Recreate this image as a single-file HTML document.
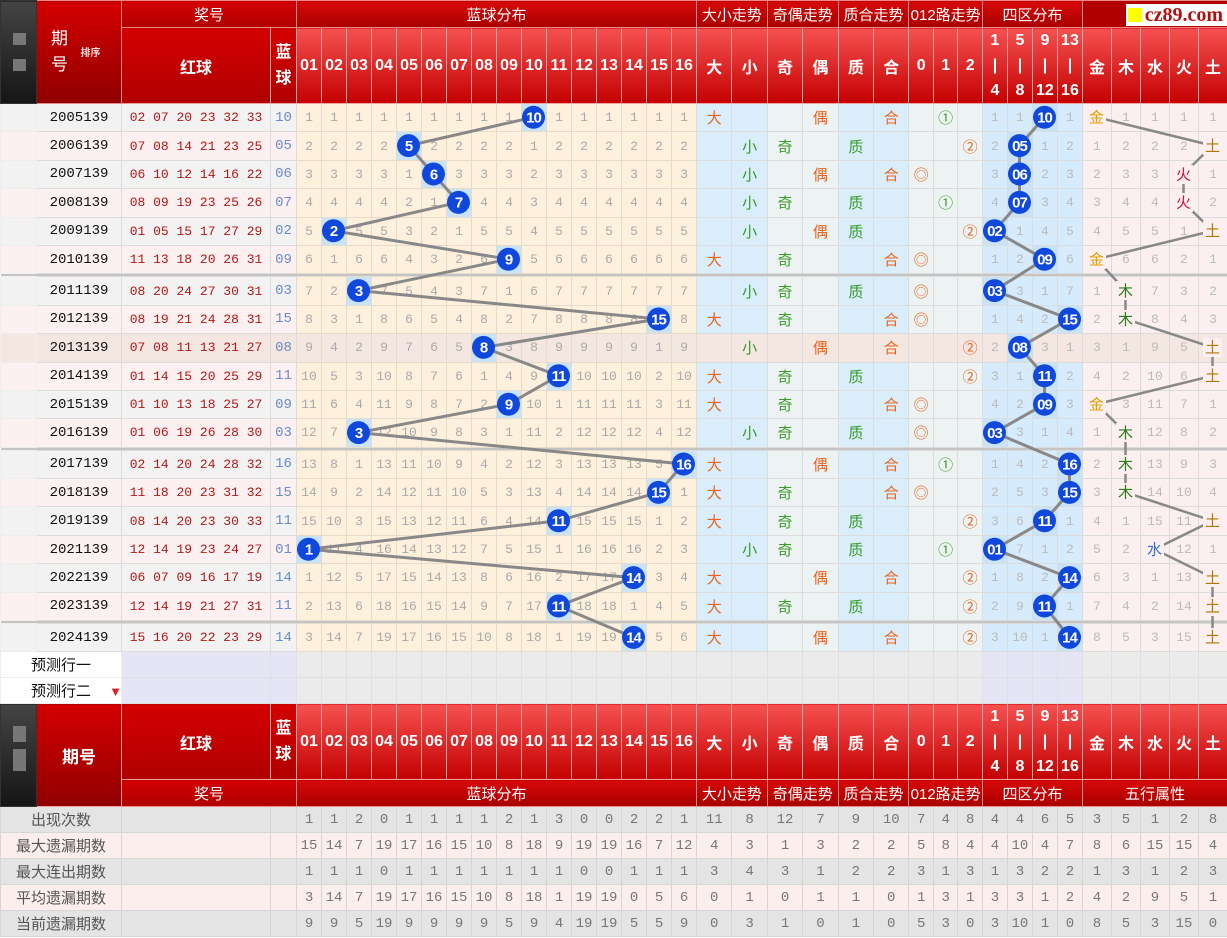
<!DOCTYPE html>
<html><head><meta charset="utf-8">
<style>
body{margin:0;width:1227px;height:938px;overflow:hidden;background:#fff;position:relative;font-family:"Liberation Sans","Noto Sans CJK SC",sans-serif}
table{border-collapse:collapse;table-layout:fixed;width:1227px;position:absolute;left:0;top:0}
td{padding:0;text-align:center;border:1px solid #dcdcdc;overflow:hidden;white-space:nowrap;font-size:13px;color:#aaa;font-family:"Liberation Mono","Noto Sans CJK SC",monospace}
.h1 td{height:26px;background:linear-gradient(#d80808,#a80000);color:#fff;font-size:15px;border:1px solid #e88;font-family:"Liberation Sans","Noto Sans CJK SC",sans-serif}
.h2 td{height:75px;background:linear-gradient(#f55050,#c40000);color:#fff;font-size:16px;font-weight:bold;border:1px solid #f3a0a0;font-family:"Liberation Sans","Noto Sans CJK SC",sans-serif}
.h2 td.rr,.h1 td.rr{background:linear-gradient(#d40000,#b00000)}
td.qh{background:linear-gradient(#d40000,#900000)!important;color:#fff;font-weight:normal;font-size:17px}
td.st{background:linear-gradient(#444,#151515)!important;border-color:#333!important;position:relative}
td.st i{position:absolute;left:12px;width:13px;height:12px;background:#777}
.zl{line-height:25px;font-size:15px}
.logo{background:#b00000!important}
.logo span{display:inline-block;background:#fff;color:#b01010;font:bold 20px "Liberation Serif",serif;padding:0 4px 0 2px;line-height:22px;margin-top:1px}
.logo b{display:inline-block;width:14px;height:14px;background:#ff0;vertical-align:-1px;margin-right:3px}
tr.d td{height:27.4px}
tr.d td:nth-child(1){background:#f6f6f6;border-color:#eee;position:relative}
tr.d td:nth-child(2){color:#111;font-size:14px}
tr.d td:nth-child(3){color:#b21818;font-size:13px;letter-spacing:0}
tr.d td:nth-child(4){color:#6a8cc8;font-size:14px}
tr.a td:nth-child(-n+4){background:#f2f2f2}
tr.b td:nth-child(-n+4){background:#fdf0f0}
tr.d td:nth-child(n+5):nth-child(-n+20){background:#fdf0dc;border-color:#e6dccb}
tr.d td:nth-child(21),tr.d td:nth-child(22),tr.d td:nth-child(25),tr.d td:nth-child(26){background:#d9edfa}
tr.d td:nth-child(23),tr.d td:nth-child(24),tr.d td:nth-child(n+27):nth-child(-n+29){background:#edf3f3}
tr.d td:nth-child(n+30):nth-child(-n+33){background:#d6ebfb;color:#bbb}
tr.d td:nth-child(n+34){background:#fcefef;color:#bbb}
tr.x td{background:#f4e6e0!important}
tr.d td.h{background:#c8e3fa!important}
td.o{color:#e8641e!important;font-size:15px;font-family:"Liberation Sans","Noto Sans CJK SC",sans-serif}
td.g{color:#3a9a2a!important;font-size:15px;font-family:"Liberation Sans","Noto Sans CJK SC",sans-serif}
tr.sp td{height:2px;background:#c4c4c4;border:0;padding:0}
tr.pr td{height:25px;background:#ebebeb;border-color:#e0e0e0}
tr.pr td.pl{background:#fff;text-align:left;padding-left:30px;color:#111;font-size:15px;font-family:"Liberation Sans","Noto Sans CJK SC",sans-serif;border-color:#eee}
tr.pr td.lv{background:#e5e5f5}
tr.sr td{height:25px;color:#777;font-size:14px;border-color:#d6d6d6}
tr.sr td.lb{color:#555;font-size:15px;font-family:"Liberation Sans","Noto Sans CJK SC",sans-serif}
tr.s1 td{background:#e4e4e4}
tr.s2 td{background:#fdeeee}
</style></head><body>
<table>
<colgroup><col style="width:36px"><col style="width:85px"><col style="width:149px"><col style="width:26px">
<col style="width:25px"><col style="width:25px"><col style="width:25px"><col style="width:25px"><col style="width:25px"><col style="width:25px"><col style="width:25px"><col style="width:25px"><col style="width:25px"><col style="width:25px"><col style="width:25px"><col style="width:25px"><col style="width:25px"><col style="width:25px"><col style="width:25px"><col style="width:25px">
<col style="width:35.4px"><col style="width:35.4px"><col style="width:35.4px"><col style="width:35.4px"><col style="width:35.4px"><col style="width:35.4px">
<col style="width:24.5px"><col style="width:24.5px"><col style="width:24.5px">
<col style="width:25px"><col style="width:25px"><col style="width:25px"><col style="width:25px">
<col style="width:29px"><col style="width:29px"><col style="width:29px"><col style="width:29px"><col style="width:29px"></colgroup>
<tr class="h1"><td class="st" rowspan="2"><i style="top:32px"></i><i style="top:58px"></i></td><td class="qh" rowspan="2" style="text-align:left;padding-left:14px;line-height:26px">期<br>号<span style="position:absolute;left:80px;top:40px;font-size:10px;font-weight:bold;color:#fdd">排序</span></td><td class="rr" colspan="2">奖号</td><td colspan="16">蓝球分布</td><td colspan="2">大小走势</td><td colspan="2">奇偶走势</td><td colspan="2">质合走势</td><td colspan="3">012路走势</td><td colspan="4">四区分布</td><td colspan="5" class="logo" style="text-align:right"><span><b></b>cz89.com</span></td></tr>
<tr class="h2"><td class="rr">红球</td><td class="rr" style="line-height:26px">蓝<br>球</td><td>01</td><td>02</td><td>03</td><td>04</td><td>05</td><td>06</td><td>07</td><td>08</td><td>09</td><td>10</td><td>11</td><td>12</td><td>13</td><td>14</td><td>15</td><td>16</td><td>大</td><td>小</td><td>奇</td><td>偶</td><td>质</td><td>合</td><td>0</td><td>1</td><td>2</td><td class="zl">1<br>|<br>4</td><td class="zl">5<br>|<br>8</td><td class="zl">9<br>|<br>12</td><td class="zl">13<br>|<br>16</td><td>金</td><td>木</td><td>水</td><td>火</td><td>土</td></tr>

<tr class="d a"><td></td><td>2005139</td><td>02 07 20 23 32 33</td><td>10</td><td>1</td><td>1</td><td>1</td><td>1</td><td>1</td><td>1</td><td>1</td><td>1</td><td>1</td><td class="h"></td><td>1</td><td>1</td><td>1</td><td>1</td><td>1</td><td>1</td><td class="o">大</td><td></td><td></td><td class="o">偶</td><td></td><td class="o">合</td><td></td><td class="g">①</td><td></td><td>1</td><td>1</td><td class="h"></td><td>1</td><td></td><td>1</td><td>1</td><td>1</td><td>1</td></tr>
<tr class="d b"><td></td><td>2006139</td><td>07 08 14 21 23 25</td><td>05</td><td>2</td><td>2</td><td>2</td><td>2</td><td class="h"></td><td>2</td><td>2</td><td>2</td><td>2</td><td>1</td><td>2</td><td>2</td><td>2</td><td>2</td><td>2</td><td>2</td><td></td><td class="g">小</td><td class="g">奇</td><td></td><td class="g">质</td><td></td><td></td><td></td><td class="o">②</td><td>2</td><td class="h"></td><td>1</td><td>2</td><td>1</td><td>2</td><td>2</td><td>2</td><td></td></tr>
<tr class="d a"><td></td><td>2007139</td><td>06 10 12 14 16 22</td><td>06</td><td>3</td><td>3</td><td>3</td><td>3</td><td>1</td><td class="h"></td><td>3</td><td>3</td><td>3</td><td>2</td><td>3</td><td>3</td><td>3</td><td>3</td><td>3</td><td>3</td><td></td><td class="g">小</td><td></td><td class="o">偶</td><td></td><td class="o">合</td><td class="o">◎</td><td></td><td></td><td>3</td><td class="h"></td><td>2</td><td>3</td><td>2</td><td>3</td><td>3</td><td></td><td>1</td></tr>
<tr class="d b"><td></td><td>2008139</td><td>08 09 19 23 25 26</td><td>07</td><td>4</td><td>4</td><td>4</td><td>4</td><td>2</td><td>1</td><td class="h"></td><td>4</td><td>4</td><td>3</td><td>4</td><td>4</td><td>4</td><td>4</td><td>4</td><td>4</td><td></td><td class="g">小</td><td class="g">奇</td><td></td><td class="g">质</td><td></td><td></td><td class="g">①</td><td></td><td>4</td><td class="h"></td><td>3</td><td>4</td><td>3</td><td>4</td><td>4</td><td></td><td>2</td></tr>
<tr class="d a"><td></td><td>2009139</td><td>01 05 15 17 27 29</td><td>02</td><td>5</td><td class="h"></td><td>5</td><td>5</td><td>3</td><td>2</td><td>1</td><td>5</td><td>5</td><td>4</td><td>5</td><td>5</td><td>5</td><td>5</td><td>5</td><td>5</td><td></td><td class="g">小</td><td></td><td class="o">偶</td><td class="g">质</td><td></td><td></td><td></td><td class="o">②</td><td class="h"></td><td>1</td><td>4</td><td>5</td><td>4</td><td>5</td><td>5</td><td>1</td><td></td></tr>
<tr class="d b"><td></td><td>2010139</td><td>11 13 18 20 26 31</td><td>09</td><td>6</td><td>1</td><td>6</td><td>6</td><td>4</td><td>3</td><td>2</td><td>6</td><td class="h"></td><td>5</td><td>6</td><td>6</td><td>6</td><td>6</td><td>6</td><td>6</td><td class="o">大</td><td></td><td class="g">奇</td><td></td><td></td><td class="o">合</td><td class="o">◎</td><td></td><td></td><td>1</td><td>2</td><td class="h"></td><td>6</td><td></td><td>6</td><td>6</td><td>2</td><td>1</td></tr>
<tr class="sp"><td colspan="38"></td></tr>
<tr class="d a"><td></td><td>2011139</td><td>08 20 24 27 30 31</td><td>03</td><td>7</td><td>2</td><td class="h"></td><td>7</td><td>5</td><td>4</td><td>3</td><td>7</td><td>1</td><td>6</td><td>7</td><td>7</td><td>7</td><td>7</td><td>7</td><td>7</td><td></td><td class="g">小</td><td class="g">奇</td><td></td><td class="g">质</td><td></td><td class="o">◎</td><td></td><td></td><td class="h"></td><td>3</td><td>1</td><td>7</td><td>1</td><td></td><td>7</td><td>3</td><td>2</td></tr>
<tr class="d b"><td></td><td>2012139</td><td>08 19 21 24 28 31</td><td>15</td><td>8</td><td>3</td><td>1</td><td>8</td><td>6</td><td>5</td><td>4</td><td>8</td><td>2</td><td>7</td><td>8</td><td>8</td><td>8</td><td>8</td><td class="h"></td><td>8</td><td class="o">大</td><td></td><td class="g">奇</td><td></td><td></td><td class="o">合</td><td class="o">◎</td><td></td><td></td><td>1</td><td>4</td><td>2</td><td class="h"></td><td>2</td><td></td><td>8</td><td>4</td><td>3</td></tr>
<tr class="d a x"><td></td><td>2013139</td><td>07 08 11 13 21 27</td><td>08</td><td>9</td><td>4</td><td>2</td><td>9</td><td>7</td><td>6</td><td>5</td><td class="h"></td><td>3</td><td>8</td><td>9</td><td>9</td><td>9</td><td>9</td><td>1</td><td>9</td><td></td><td class="g">小</td><td></td><td class="o">偶</td><td></td><td class="o">合</td><td></td><td></td><td class="o">②</td><td>2</td><td class="h"></td><td>3</td><td>1</td><td>3</td><td>1</td><td>9</td><td>5</td><td></td></tr>
<tr class="d b"><td></td><td>2014139</td><td>01 14 15 20 25 29</td><td>11</td><td>10</td><td>5</td><td>3</td><td>10</td><td>8</td><td>7</td><td>6</td><td>1</td><td>4</td><td>9</td><td class="h"></td><td>10</td><td>10</td><td>10</td><td>2</td><td>10</td><td class="o">大</td><td></td><td class="g">奇</td><td></td><td class="g">质</td><td></td><td></td><td></td><td class="o">②</td><td>3</td><td>1</td><td class="h"></td><td>2</td><td>4</td><td>2</td><td>10</td><td>6</td><td></td></tr>
<tr class="d a"><td></td><td>2015139</td><td>01 10 13 18 25 27</td><td>09</td><td>11</td><td>6</td><td>4</td><td>11</td><td>9</td><td>8</td><td>7</td><td>2</td><td class="h"></td><td>10</td><td>1</td><td>11</td><td>11</td><td>11</td><td>3</td><td>11</td><td class="o">大</td><td></td><td class="g">奇</td><td></td><td></td><td class="o">合</td><td class="o">◎</td><td></td><td></td><td>4</td><td>2</td><td class="h"></td><td>3</td><td></td><td>3</td><td>11</td><td>7</td><td>1</td></tr>
<tr class="d b"><td></td><td>2016139</td><td>01 06 19 26 28 30</td><td>03</td><td>12</td><td>7</td><td class="h"></td><td>12</td><td>10</td><td>9</td><td>8</td><td>3</td><td>1</td><td>11</td><td>2</td><td>12</td><td>12</td><td>12</td><td>4</td><td>12</td><td></td><td class="g">小</td><td class="g">奇</td><td></td><td class="g">质</td><td></td><td class="o">◎</td><td></td><td></td><td class="h"></td><td>3</td><td>1</td><td>4</td><td>1</td><td></td><td>12</td><td>8</td><td>2</td></tr>
<tr class="sp"><td colspan="38"></td></tr>
<tr class="d a"><td></td><td>2017139</td><td>02 14 20 24 28 32</td><td>16</td><td>13</td><td>8</td><td>1</td><td>13</td><td>11</td><td>10</td><td>9</td><td>4</td><td>2</td><td>12</td><td>3</td><td>13</td><td>13</td><td>13</td><td>5</td><td class="h"></td><td class="o">大</td><td></td><td></td><td class="o">偶</td><td></td><td class="o">合</td><td></td><td class="g">①</td><td></td><td>1</td><td>4</td><td>2</td><td class="h"></td><td>2</td><td></td><td>13</td><td>9</td><td>3</td></tr>
<tr class="d b"><td></td><td>2018139</td><td>11 18 20 23 31 32</td><td>15</td><td>14</td><td>9</td><td>2</td><td>14</td><td>12</td><td>11</td><td>10</td><td>5</td><td>3</td><td>13</td><td>4</td><td>14</td><td>14</td><td>14</td><td class="h"></td><td>1</td><td class="o">大</td><td></td><td class="g">奇</td><td></td><td></td><td class="o">合</td><td class="o">◎</td><td></td><td></td><td>2</td><td>5</td><td>3</td><td class="h"></td><td>3</td><td></td><td>14</td><td>10</td><td>4</td></tr>
<tr class="d a"><td></td><td>2019139</td><td>08 14 20 23 30 33</td><td>11</td><td>15</td><td>10</td><td>3</td><td>15</td><td>13</td><td>12</td><td>11</td><td>6</td><td>4</td><td>14</td><td class="h"></td><td>15</td><td>15</td><td>15</td><td>1</td><td>2</td><td class="o">大</td><td></td><td class="g">奇</td><td></td><td class="g">质</td><td></td><td></td><td></td><td class="o">②</td><td>3</td><td>6</td><td class="h"></td><td>1</td><td>4</td><td>1</td><td>15</td><td>11</td><td></td></tr>
<tr class="d b"><td></td><td>2021139</td><td>12 14 19 23 24 27</td><td>01</td><td class="h"></td><td>11</td><td>4</td><td>16</td><td>14</td><td>13</td><td>12</td><td>7</td><td>5</td><td>15</td><td>1</td><td>16</td><td>16</td><td>16</td><td>2</td><td>3</td><td></td><td class="g">小</td><td class="g">奇</td><td></td><td class="g">质</td><td></td><td></td><td class="g">①</td><td></td><td class="h"></td><td>7</td><td>1</td><td>2</td><td>5</td><td>2</td><td></td><td>12</td><td>1</td></tr>
<tr class="d a"><td></td><td>2022139</td><td>06 07 09 16 17 19</td><td>14</td><td>1</td><td>12</td><td>5</td><td>17</td><td>15</td><td>14</td><td>13</td><td>8</td><td>6</td><td>16</td><td>2</td><td>17</td><td>17</td><td class="h"></td><td>3</td><td>4</td><td class="o">大</td><td></td><td></td><td class="o">偶</td><td></td><td class="o">合</td><td></td><td></td><td class="o">②</td><td>1</td><td>8</td><td>2</td><td class="h"></td><td>6</td><td>3</td><td>1</td><td>13</td><td></td></tr>
<tr class="d b"><td></td><td>2023139</td><td>12 14 19 21 27 31</td><td>11</td><td>2</td><td>13</td><td>6</td><td>18</td><td>16</td><td>15</td><td>14</td><td>9</td><td>7</td><td>17</td><td class="h"></td><td>18</td><td>18</td><td>1</td><td>4</td><td>5</td><td class="o">大</td><td></td><td class="g">奇</td><td></td><td class="g">质</td><td></td><td></td><td></td><td class="o">②</td><td>2</td><td>9</td><td class="h"></td><td>1</td><td>7</td><td>4</td><td>2</td><td>14</td><td></td></tr>
<tr class="sp"><td colspan="38"></td></tr>
<tr class="d a"><td></td><td>2024139</td><td>15 16 20 22 23 29</td><td>14</td><td>3</td><td>14</td><td>7</td><td>19</td><td>17</td><td>16</td><td>15</td><td>10</td><td>8</td><td>18</td><td>1</td><td>19</td><td>19</td><td class="h"></td><td>5</td><td>6</td><td class="o">大</td><td></td><td></td><td class="o">偶</td><td></td><td class="o">合</td><td></td><td></td><td class="o">②</td><td>3</td><td>10</td><td>1</td><td class="h"></td><td>8</td><td>5</td><td>3</td><td>15</td><td></td></tr>

<tr class="pr"><td class="pl" colspan="2">预测行一</td><td class="lv"></td><td class="lv"></td><td></td><td></td><td></td><td></td><td></td><td></td><td></td><td></td><td></td><td></td><td></td><td></td><td></td><td></td><td></td><td></td><td></td><td></td><td></td><td></td><td></td><td></td><td></td><td></td><td></td><td class="lv"></td><td class="lv"></td><td class="lv"></td><td class="lv"></td><td></td><td></td><td></td><td></td><td></td></tr>
<tr class="pr"><td class="pl" colspan="2">预测行二 <span style="color:#e02020;font-size:13px;margin-left:14px">▼</span></td><td class="lv"></td><td class="lv"></td><td></td><td></td><td></td><td></td><td></td><td></td><td></td><td></td><td></td><td></td><td></td><td></td><td></td><td></td><td></td><td></td><td></td><td></td><td></td><td></td><td></td><td></td><td></td><td></td><td></td><td class="lv"></td><td class="lv"></td><td class="lv"></td><td class="lv"></td><td></td><td></td><td></td><td></td><td></td></tr>

<tr class="h2"><td class="st" rowspan="2"><i style="top:22px;height:16px"></i><i style="top:45px;height:22px"></i></td><td class="qh" rowspan="2" style="font-weight:bold">期号</td><td class="rr">红球</td><td class="rr" style="line-height:26px">蓝<br>球</td><td>01</td><td>02</td><td>03</td><td>04</td><td>05</td><td>06</td><td>07</td><td>08</td><td>09</td><td>10</td><td>11</td><td>12</td><td>13</td><td>14</td><td>15</td><td>16</td><td>大</td><td>小</td><td>奇</td><td>偶</td><td>质</td><td>合</td><td>0</td><td>1</td><td>2</td><td class="zl">1<br>|<br>4</td><td class="zl">5<br>|<br>8</td><td class="zl">9<br>|<br>12</td><td class="zl">13<br>|<br>16</td><td>金</td><td>木</td><td>水</td><td>火</td><td>土</td></tr>
<tr class="h1"><td class="rr" colspan="2">奖号</td><td colspan="16">蓝球分布</td><td colspan="2">大小走势</td><td colspan="2">奇偶走势</td><td colspan="2">质合走势</td><td colspan="3">012路走势</td><td colspan="4">四区分布</td><td colspan="5">五行属性</td></tr>

<tr class="sr s1"><td class="lb" colspan="2">出现次数</td><td></td><td></td><td>1</td><td>1</td><td>2</td><td>0</td><td>1</td><td>1</td><td>1</td><td>1</td><td>2</td><td>1</td><td>3</td><td>0</td><td>0</td><td>2</td><td>2</td><td>1</td><td>11</td><td>8</td><td>12</td><td>7</td><td>9</td><td>10</td><td>7</td><td>4</td><td>8</td><td>4</td><td>4</td><td>6</td><td>5</td><td>3</td><td>5</td><td>1</td><td>2</td><td>8</td></tr>
<tr class="sr s2"><td class="lb" colspan="2">最大遗漏期数</td><td></td><td></td><td>15</td><td>14</td><td>7</td><td>19</td><td>17</td><td>16</td><td>15</td><td>10</td><td>8</td><td>18</td><td>9</td><td>19</td><td>19</td><td>16</td><td>7</td><td>12</td><td>4</td><td>3</td><td>1</td><td>3</td><td>2</td><td>2</td><td>5</td><td>8</td><td>4</td><td>4</td><td>10</td><td>4</td><td>7</td><td>8</td><td>6</td><td>15</td><td>15</td><td>4</td></tr>
<tr class="sr s1"><td class="lb" colspan="2">最大连出期数</td><td></td><td></td><td>1</td><td>1</td><td>1</td><td>0</td><td>1</td><td>1</td><td>1</td><td>1</td><td>1</td><td>1</td><td>1</td><td>0</td><td>0</td><td>1</td><td>1</td><td>1</td><td>3</td><td>4</td><td>3</td><td>1</td><td>2</td><td>2</td><td>3</td><td>1</td><td>3</td><td>1</td><td>3</td><td>2</td><td>2</td><td>1</td><td>3</td><td>1</td><td>2</td><td>3</td></tr>
<tr class="sr s2"><td class="lb" colspan="2">平均遗漏期数</td><td></td><td></td><td>3</td><td>14</td><td>7</td><td>19</td><td>17</td><td>16</td><td>15</td><td>10</td><td>8</td><td>18</td><td>1</td><td>19</td><td>19</td><td>0</td><td>5</td><td>6</td><td>0</td><td>1</td><td>0</td><td>1</td><td>1</td><td>0</td><td>1</td><td>3</td><td>1</td><td>3</td><td>3</td><td>1</td><td>2</td><td>4</td><td>2</td><td>9</td><td>5</td><td>1</td></tr>
<tr class="sr s1"><td class="lb" colspan="2">当前遗漏期数</td><td></td><td></td><td>9</td><td>9</td><td>5</td><td>19</td><td>9</td><td>9</td><td>9</td><td>9</td><td>5</td><td>9</td><td>4</td><td>19</td><td>19</td><td>5</td><td>5</td><td>9</td><td>0</td><td>3</td><td>1</td><td>0</td><td>1</td><td>0</td><td>5</td><td>3</td><td>0</td><td>3</td><td>10</td><td>1</td><td>0</td><td>8</td><td>5</td><td>3</td><td>15</td><td>0</td></tr>
</table>

<svg width="1227" height="938" style="position:absolute;left:0;top:0" font-family="Liberation Sans, Noto Sans CJK SC, sans-serif">
<g fill="none" stroke="#888" stroke-width="3">
<polyline points="533.5,117.2 408.5,145.6 433.5,174 458.5,202.4 333.5,230.8 508.5,259.2 358.5,290.6 658.5,319 483.5,347.4 558.5,375.8 508.5,404.2 358.5,432.6 683.5,464 658.5,492.4 558.5,520.8 308.5,549.2 633.5,577.6 558.5,606 633.5,637.4"/>
<polyline points="1044.5,117.2 1019.5,145.6 1019.5,174 1019.5,202.4 994.5,230.8 1044.5,259.2 994.5,290.6 1069.5,319 1019.5,347.4 1044.5,375.8 1044.5,404.2 994.5,432.6 1069.5,464 1069.5,492.4 1044.5,520.8 994.5,549.2 1069.5,577.6 1044.5,606 1069.5,637.4"/>
<polyline stroke-width="2.5" points="1096.5,117.2 1212.5,145.6 1183.5,174 1183.5,202.4 1212.5,230.8 1096.5,259.2 1125.5,290.6 1125.5,319 1212.5,347.4 1212.5,375.8 1096.5,404.2 1125.5,432.6 1125.5,464 1125.5,492.4 1212.5,520.8 1154.5,549.2 1212.5,577.6 1212.5,606 1212.5,637.4"/>
</g>
<g fill="#1048dc">
<circle cx="533.5" cy="117.2" r="11.5"/><circle cx="408.5" cy="145.6" r="11.5"/><circle cx="433.5" cy="174" r="11.5"/><circle cx="458.5" cy="202.4" r="11.5"/><circle cx="333.5" cy="230.8" r="11.5"/><circle cx="508.5" cy="259.2" r="11.5"/><circle cx="358.5" cy="290.6" r="11.5"/><circle cx="658.5" cy="319" r="11.5"/><circle cx="483.5" cy="347.4" r="11.5"/><circle cx="558.5" cy="375.8" r="11.5"/><circle cx="508.5" cy="404.2" r="11.5"/><circle cx="358.5" cy="432.6" r="11.5"/><circle cx="683.5" cy="464" r="11.5"/><circle cx="658.5" cy="492.4" r="11.5"/><circle cx="558.5" cy="520.8" r="11.5"/><circle cx="308.5" cy="549.2" r="11.5"/><circle cx="633.5" cy="577.6" r="11.5"/><circle cx="558.5" cy="606" r="11.5"/><circle cx="633.5" cy="637.4" r="11.5"/>
<circle cx="1044.5" cy="117.2" r="11.5"/><circle cx="1019.5" cy="145.6" r="11.5"/><circle cx="1019.5" cy="174" r="11.5"/><circle cx="1019.5" cy="202.4" r="11.5"/><circle cx="994.5" cy="230.8" r="11.5"/><circle cx="1044.5" cy="259.2" r="11.5"/><circle cx="994.5" cy="290.6" r="11.5"/><circle cx="1069.5" cy="319" r="11.5"/><circle cx="1019.5" cy="347.4" r="11.5"/><circle cx="1044.5" cy="375.8" r="11.5"/><circle cx="1044.5" cy="404.2" r="11.5"/><circle cx="994.5" cy="432.6" r="11.5"/><circle cx="1069.5" cy="464" r="11.5"/><circle cx="1069.5" cy="492.4" r="11.5"/><circle cx="1044.5" cy="520.8" r="11.5"/><circle cx="994.5" cy="549.2" r="11.5"/><circle cx="1069.5" cy="577.6" r="11.5"/><circle cx="1044.5" cy="606" r="11.5"/><circle cx="1069.5" cy="637.4" r="11.5"/>
</g>
<g fill="#fff" font-size="15" font-weight="bold" text-anchor="middle" letter-spacing="-1">
<text x="533.5" y="122.5">10</text><text x="408.5" y="150.9">5</text><text x="433.5" y="179.3">6</text><text x="458.5" y="207.7">7</text><text x="333.5" y="236.1">2</text><text x="508.5" y="264.5">9</text><text x="358.5" y="295.9">3</text><text x="658.5" y="324.3">15</text><text x="483.5" y="352.7">8</text><text x="558.5" y="381.1">11</text><text x="508.5" y="409.5">9</text><text x="358.5" y="437.9">3</text><text x="683.5" y="469.3">16</text><text x="658.5" y="497.7">15</text><text x="558.5" y="526.1">11</text><text x="308.5" y="554.5">1</text><text x="633.5" y="582.9">14</text><text x="558.5" y="611.3">11</text><text x="633.5" y="642.7">14</text>
<text x="1044.5" y="122.5">10</text><text x="1019.5" y="150.9">05</text><text x="1019.5" y="179.3">06</text><text x="1019.5" y="207.7">07</text><text x="994.5" y="236.1">02</text><text x="1044.5" y="264.5">09</text><text x="994.5" y="295.9">03</text><text x="1069.5" y="324.3">15</text><text x="1019.5" y="352.7">08</text><text x="1044.5" y="381.1">11</text><text x="1044.5" y="409.5">09</text><text x="994.5" y="437.9">03</text><text x="1069.5" y="469.3">16</text><text x="1069.5" y="497.7">15</text><text x="1044.5" y="526.1">11</text><text x="994.5" y="554.5">01</text><text x="1069.5" y="582.9">14</text><text x="1044.5" y="611.3">11</text><text x="1069.5" y="642.7">14</text>
</g>
<g fill="#fcefef">
<rect x="1087" y="108" width="19" height="19"/><rect x="1203" y="136" width="19" height="19"/><rect x="1174" y="165" width="19" height="19"/><rect x="1174" y="193" width="19" height="19"/><rect x="1203" y="221" width="19" height="19"/><rect x="1087" y="250" width="19" height="19"/><rect x="1116" y="281" width="19" height="19"/><rect x="1116" y="310" width="19" height="19"/><rect x="1203" y="338" width="19" height="19"/><rect x="1203" y="366" width="19" height="19"/><rect x="1087" y="395" width="19" height="19"/><rect x="1116" y="423" width="19" height="19"/><rect x="1116" y="455" width="19" height="19"/><rect x="1116" y="483" width="19" height="19"/><rect x="1203" y="511" width="19" height="19"/><rect x="1145" y="540" width="19" height="19"/><rect x="1203" y="568" width="19" height="19"/><rect x="1203" y="597" width="19" height="19"/><rect x="1203" y="628" width="19" height="19"/>
</g>
<g font-size="15" text-anchor="middle">
<text x="1096.5" y="122.5" fill="#e0a000">金</text><text x="1212.5" y="150.9" fill="#b07800">土</text><text x="1183.5" y="179.3" fill="#d0103a">火</text><text x="1183.5" y="207.7" fill="#d0103a">火</text><text x="1212.5" y="236.1" fill="#b07800">土</text><text x="1096.5" y="264.5" fill="#e0a000">金</text><text x="1125.5" y="295.9" fill="#2a7a1a">木</text><text x="1125.5" y="324.3" fill="#2a7a1a">木</text><text x="1212.5" y="352.7" fill="#b07800">土</text><text x="1212.5" y="381.1" fill="#b07800">土</text><text x="1096.5" y="409.5" fill="#e0a000">金</text><text x="1125.5" y="437.9" fill="#2a7a1a">木</text><text x="1125.5" y="469.3" fill="#2a7a1a">木</text><text x="1125.5" y="497.7" fill="#2a7a1a">木</text><text x="1212.5" y="526.1" fill="#b07800">土</text><text x="1154.5" y="554.5" fill="#3070d0">水</text><text x="1212.5" y="582.9" fill="#b07800">土</text><text x="1212.5" y="611.3" fill="#b07800">土</text><text x="1212.5" y="642.7" fill="#b07800">土</text>
</g>
</svg>
</body></html>
